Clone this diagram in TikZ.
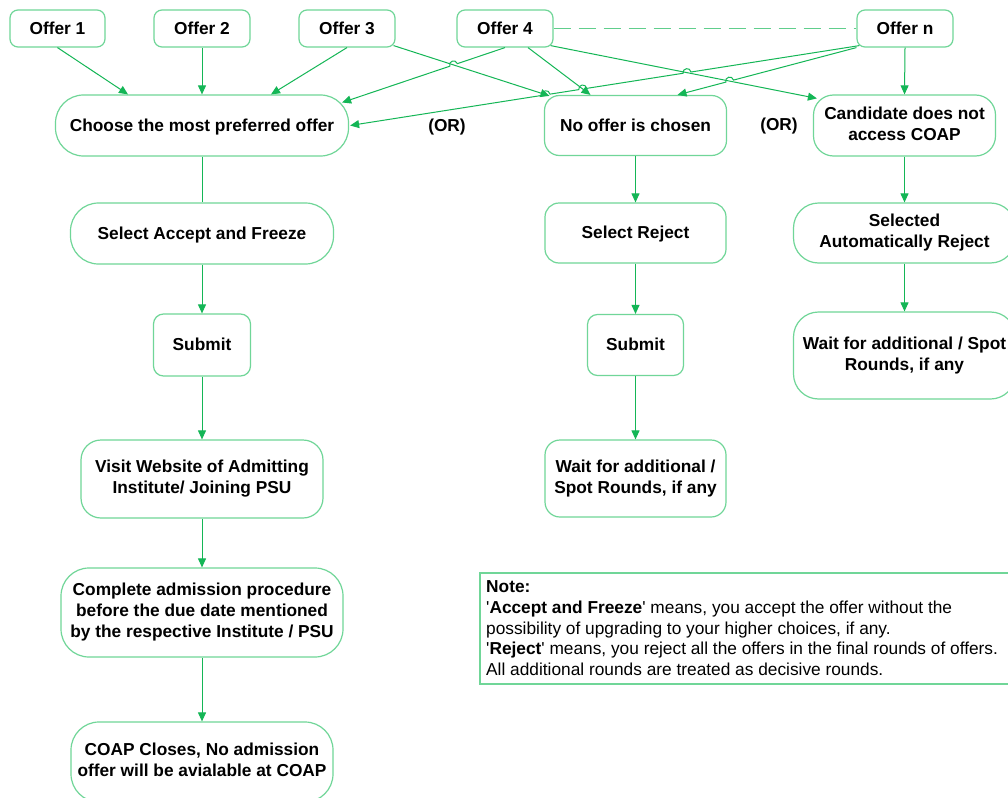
\documentclass[tikz,border=0pt]{standalone}
\usepackage{fontspec}
\setmainfont{Liberation Sans}
\usetikzlibrary{arrows.meta,calc,intersections}
\definecolor{bordergreen}{RGB}{112,214,152}
\definecolor{dashgreen}{RGB}{96,206,140}
\definecolor{arrowgreen}{RGB}{20,182,86}
% hop helper: #1 name, #2 crossing point, #3 point toward path start, #4 point toward path end
\newcommand\hopdef[4]{%
  \coordinate (#1a) at ($(#2)!4pt!(#3)$);
  \coordinate (#1b) at ($(#2)!4pt!(#4)$);
  \coordinate (#1n) at ($(#2)!5.33pt!-90:(#4)$);
  \coordinate (#1c) at ($(#1a)+(#1n)-(#2)$);
  \coordinate (#1d) at ($(#1b)+(#1n)-(#2)$);}
\begin{document}
\begin{tikzpicture}[x=1pt,y=-1pt,
  box/.style={draw=bordergreen, line width=1.2pt, fill=white, align=center,
    font=\fontsize{17.3}{21}\selectfont\bfseries, inner sep=0pt,
    execute at begin node={\rule{0pt}{15pt}},
    execute at end node={\rule[-3.6pt]{0pt}{3.6pt}}},
  lbl/.style={font=\fontsize{17.3}{21}\selectfont\bfseries, inner sep=0pt},
  conn/.style={draw=arrowgreen, line width=1pt, -{Triangle[length=9pt,width=8pt]}},
  plain/.style={draw=arrowgreen, line width=1pt},
  dashconn/.style={draw=dashgreen, line width=1.3pt, dash pattern=on 17pt off 8pt}]
\useasboundingbox (0,0) rectangle (1008,797);
\fill[white] (0,0) rectangle (1008,797);

% top row
\node[box, minimum width=95, minimum height=37, rounded corners=8] (o1) at (57.5,28.5) {Offer 1};
\node[box, minimum width=96, minimum height=37, rounded corners=8] (o2) at (202,28.5) {Offer 2};
\node[box, minimum width=96, minimum height=37, rounded corners=8] (o3) at (347,28.5) {Offer 3};
\node[box, minimum width=96, minimum height=37, rounded corners=8] (o4) at (505,28.5) {Offer 4};
\node[box, minimum width=96, minimum height=37, rounded corners=8] (on) at (905,28.5) {Offer n};

% second row
\node[box, minimum width=293, minimum height=61, rounded corners=28] (choose) at (202,125.5) {Choose the most preferred offer};
\node[box, minimum width=182, minimum height=60, rounded corners=15] (no) at (635.5,125.5) {No offer is chosen};
\node[box, minimum width=182, minimum height=61, rounded corners=20] (cand) at (904.5,125.5) {Candidate does not\\access COAP};
\node[lbl] (or1) at (447,127) {(OR)};
\node[lbl] (or2) at (779,126) {(OR)};

% left column
\node[box, minimum width=263, minimum height=61, rounded corners=28] (saf) at (202,233.5) {Select Accept and Freeze};
\node[box, minimum width=97, minimum height=62, rounded corners=10] (subl) at (202,345) {Submit};
\node[box, minimum width=242, minimum height=78, rounded corners=20] (visit) at (202,479) {Visit Website of Admitting\\Institute/ Joining PSU};
\node[box, minimum width=282, minimum height=89, rounded corners=28] (complete) at (202,612.5) {Complete admission procedure\\before the due date mentioned\\by the respective Institute / PSU};
\node[box, minimum width=262, minimum height=80, rounded corners=28] (coap) at (202,762) {COAP Closes, No admission\\offer will be avialable at COAP};

% middle column
\node[box, minimum width=181, minimum height=60, rounded corners=14] (selrej) at (635.5,233) {Select Reject};
\node[box, minimum width=96, minimum height=61, rounded corners=10] (subm) at (635.5,345) {Submit};
\node[box, minimum width=181, minimum height=77, rounded corners=15] (waitm) at (635.5,478.5) {Wait for additional /\\Spot Rounds, if any};

% right column
\node[box, minimum width=222, minimum height=60, rounded corners=25] (selauto) at (904.5,233) {Selected\\Automatically Reject};
\node[box, minimum width=222, minimum height=87, rounded corners=25] (waitr) at (904.5,355.5) {Wait for additional / Spot\\Rounds, if any};

% note
\draw[draw=bordergreen, line width=1.2pt] (480,573) rectangle (1014,684);
\node[anchor=north west, align=left, inner sep=0pt, font=\fontsize{17.3}{20.7}\selectfont] (note) at (486,580.5)
{\textbf{Note:}\\
\textquotesingle\textbf{Accept and Freeze}\textquotesingle{} means, you accept the offer without the\\
possibility of upgrading to your higher choices, if any.\\
\textquotesingle\textbf{Reject}\textquotesingle{} means, you reject all the offers in the final rounds of offers.\\
All additional rounds are treated as decisive rounds.};

% connector end points
\coordinate (s3n) at ([xshift=-2pt,yshift=2pt]o3.south east);
\coordinate (e3n) at ([xshift=-86pt,yshift=-1pt]no.north);
\coordinate (e4c) at ([xshift=-7pt,yshift=23pt]choose.east);
\coordinate (s4n) at ([xshift=23pt]o4.south);
\coordinate (e4n) at ([xshift=-45pt]no.north);
\coordinate (s4k) at ([xshift=-3pt,yshift=2pt]o4.south east);
\coordinate (e4k) at ([xshift=4pt,yshift=-4pt]cand.north west);
\coordinate (snc) at ([xshift=3pt,yshift=2pt]on.south west);
\coordinate (enc) at ([xshift=1pt]choose.east);
\coordinate (snn) at (on.south west);
\coordinate (enn) at ([xshift=42pt]no.north);

\path[name path=L3n] (s3n) -- (e3n);
\path[name path=L4c] (o4.south) -- (e4c);
\path[name path=L4n] (s4n) -- (e4n);
\path[name path=L4k] (s4k) -- (e4k);
\path[name path=Lnc] (snc) -- (enc);
\path[name path=Lnn] (snn) -- (enn);
\path[name intersections={of=L3n and L4c, by=X1}];
\path[name intersections={of=L3n and Lnc, by=X2}];
\path[name intersections={of=L4n and Lnc, by=X3}];
\path[name intersections={of=L4k and Lnc, by=X4}];
\path[name intersections={of=L4k and Lnn, by=X5}];
\hopdef{ha}{X1}{o4.south}{e4c}
\hopdef{hb}{X4}{snc}{enc}
\hopdef{hc}{X3}{snc}{enc}
\hopdef{hd}{X2}{snc}{enc}
\hopdef{he}{X5}{snn}{enn}

% connectors from offers
\draw[conn] (o1.south) -- ([xshift=-74pt]choose.north);
\draw[conn] (o2.south) -- (choose.north);
\draw[conn] (o3.south) -- ([xshift=69pt]choose.north);
\draw[conn] (s3n) -- (e3n);
\draw[conn] (o4.south) -- (haa) .. controls (hac) and (had) .. (hab) -- (e4c);
\draw[conn] (s4n) -- (e4n);
\draw[conn] (s4k) -- (e4k);
\draw[conn] (snc) -- (hba) .. controls (hbc) and (hbd) .. (hbb)
  -- (hca) .. controls (hcc) and (hcd) .. (hcb)
  -- (hda) .. controls (hdc) and (hdd) .. (hdb) -- (enc);
\draw[conn] (snn) -- (hea) .. controls (hec) and (hed) .. (heb) -- (enn);
\draw[conn] (on.south) -- (cand.north);
\draw[dashconn] (o4.east) -- (on.west);

% left column flow
\draw[plain] (choose.south) -- (saf.north);
\draw[conn] (saf.south) -- (subl.north);
\draw[conn] (subl.south) -- (visit.north);
\draw[conn] (visit.south) -- (complete.north);
\draw[conn] (complete.south) -- (coap.north);

% middle column flow
\draw[conn] (no.south) -- (selrej.north);
\draw[conn] (selrej.south) -- (subm.north);
\draw[conn] (subm.south) -- (waitm.north);

% right column flow
\draw[conn] (cand.south) -- (selauto.north);
\draw[conn] (selauto.south) -- (waitr.north);
\end{tikzpicture}
\end{document}
